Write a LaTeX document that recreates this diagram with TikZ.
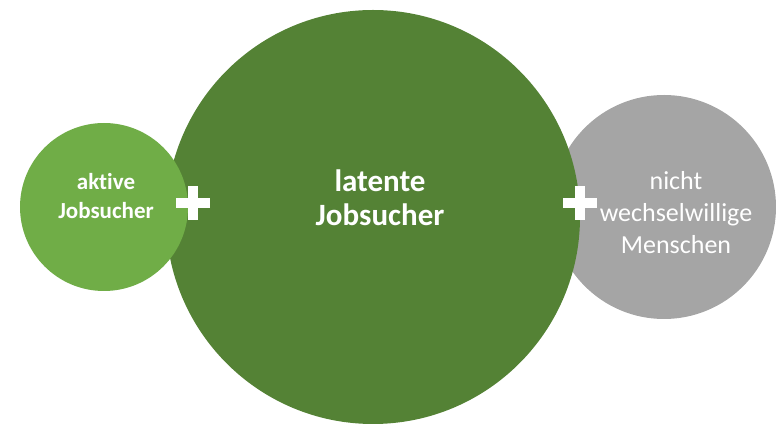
\documentclass[tikz,border=0pt]{standalone}
\usepackage{fontspec}
\setmainfont{Carlito}[Ligatures=NoCommon]
\usetikzlibrary{positioning}

\definecolor{activegreen}{HTML}{70AD47}
\definecolor{latentgreen}{HTML}{548235}
\definecolor{passivegray}{HTML}{A5A5A5}

\begin{document}
\begin{tikzpicture}[x=1pt, y=1pt,
    bubble/.style={circle, inner sep=0pt},
    bubbletext/.style={text=white, align=center, inner sep=0pt},
    plussign/.style={minimum size=34pt, inner sep=0pt,
        path picture={
            \fill[white] ([xshift=-17pt,yshift=-5pt]path picture bounding box.center)
                rectangle ([xshift=17pt,yshift=5pt]path picture bounding box.center);
            \fill[white] ([xshift=-5pt,yshift=-17pt]path picture bounding box.center)
                rectangle ([xshift=5pt,yshift=17pt]path picture bounding box.center);
        }}]
    \useasboundingbox (0,0) rectangle (776,425);

    % the three groups, back to front
    \node [bubble, fill=passivegray, minimum size=224pt] (passive) at (664,218) {};
    \node [bubble, fill=latentgreen, minimum size=414pt] (latent) at (373,208) {};
    \node [bubble, fill=activegreen, minimum size=168pt] (active) at (104,218) {};

    \node [bubbletext, font=\fontsize{23}{29}\selectfont\bfseries] (activetext)
        at ([xshift=2pt,yshift=11pt]active.center) {aktive\\Jobsucher};
    \node [bubbletext, font=\fontsize{31}{34}\selectfont\bfseries] (latenttext)
        at ([xshift=7pt,yshift=19pt]latent.center) {latente\\Jobsucher};
    \node [bubbletext, font=\fontsize{26}{32}\selectfont] (passivetext)
        at ([xshift=12pt,yshift=-6pt]passive.center) {nicht\\wechselwillige\\Menschen};

    \node [plussign] (plus1) at (193,222) {};
    \node [plussign] (plus2) at (580,222) {};
\end{tikzpicture}
\end{document}
